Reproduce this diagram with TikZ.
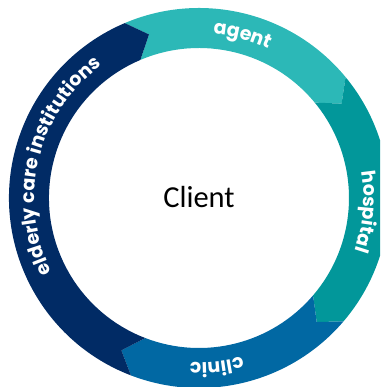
\documentclass[tikz,border=0pt]{standalone}
\usepackage{fontspec}
\setmainfont{Carlito}
\newfontfamily\labfont{Poppins}
\usetikzlibrary{decorations.text}
\definecolor{navy}{HTML}{012B65}
\definecolor{lteal}{HTML}{2CB8B7}
\definecolor{dteal}{HTML}{02979A}
\definecolor{cblue}{HTML}{0168A3}
\newcommand{\ringseg}[3]{%
  \fill[#3] (#1:190pt) arc[start angle=#1, end angle=#2, radius=190pt]
    -- ({#2-6}:171pt) -- (#2:150pt)
    arc[start angle=#2, end angle=#1, radius=150pt]
    -- ({#1-6}:171pt) -- cycle;}
\newcommand{\ringlabel}[3]{%
  \path[decorate, decoration={text along path, text align=center, text color=white,
    text={|\labfont\bfseries\fontsize{19}{23}\selectfont|#2}}]
    ({#1+#3}:164.5pt) arc[start angle={#1+#3}, end angle={#1-#3}, radius=164.5pt];}
\begin{document}
\begin{tikzpicture}
\useasboundingbox (-199pt,-189pt) rectangle (181pt,198pt);
\clip (-199pt,-189pt) rectangle (181pt,198pt);
\ringseg{113}{39.5}{lteal}
\ringseg{39.5}{-40.5}{dteal}
\ringseg{-40.5}{-111}{cblue}
\ringseg{249}{113}{navy}
\ringlabel{75}{agent}{40}
\ringlabel{-4.7}{hospital}{40}
\ringlabel{-84}{clinic}{40}
\ringlabel{166.4}{elderly care institutions}{65}
\node[anchor=base, inner sep=0pt, font=\fontsize{30.5}{36}\selectfont] (client) at (0pt,-10pt) {Client};
\end{tikzpicture}
\end{document}
